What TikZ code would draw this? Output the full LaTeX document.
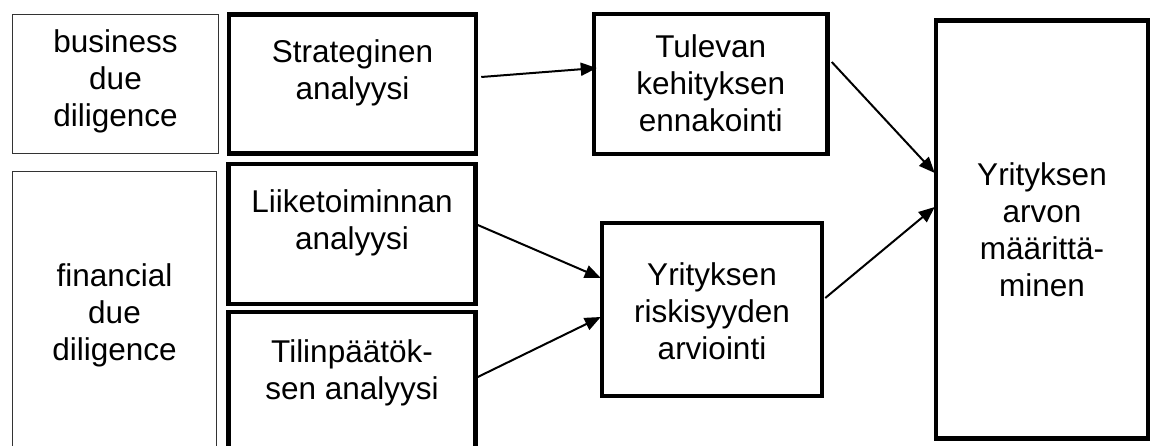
\documentclass[tikz,border=0pt]{standalone}
\usepackage{fontspec}
\setmainfont{Liberation Sans}
\usetikzlibrary{arrows.meta}
\begin{document}
\begin{tikzpicture}[x=1pt,y=-1pt,
  thinbox/.style={draw=black!80,line width=1pt,rectangle,inner sep=0pt},
  thickbox/.style={draw=black,line width=4.5pt,rectangle,inner sep=0pt},
  lbl/.style={align=center,inner sep=0pt,anchor=base,
    font=\fontsize{31.5}{37}\selectfont},
  conn/.style={line width=2pt,-{Triangle[length=16pt,width=13pt]}}]
\useasboundingbox (0,0) rectangle (1150,446);
\clip (0,0) rectangle (1150,446);
\fill[white] (0,0) rectangle (1150,446);

% phase frames on the left
\node[thinbox,minimum width=206pt,minimum height=139pt] (bdd) at (115.5,84) {};
\node[thinbox,minimum width=204pt,minimum height=279.5pt] (fdd) at (114.5,311.25) {};

% analysis steps
\node[thickbox,minimum width=247pt,minimum height=139pt] (strat) at (352.5,84) {};
\node[thickbox,minimum width=247pt,minimum height=140pt] (liike) at (352,234) {};
\node[thickbox,minimum width=247pt,minimum height=140pt] (tilin) at (352,382) {};
\node[thickbox,minimum width=233.5pt,minimum height=140pt] (tul) at (710.75,84) {};
\node[thickbox,minimum width=220pt,minimum height=173pt] (risk) at (712,309.5) {};
\node[thickbox,minimum width=212pt,minimum height=418pt] (arvo) at (1042,229.6) {};

% texts (anchored at the baseline of their last line)
\node[lbl] (bddtxt) at (115.5,127) {business\\due\\diligence};
\node[lbl] (fddtxt) at (114.5,360) {financial\\due\\diligence};
\node[lbl] (strattxt) at (352.5,100) {Strateginen\\analyysi};
\node[lbl] (liiketxt) at (352,250) {Liiketoiminnan\\analyysi};
\node[lbl] (tilintxt) at (352,399) {Tilinpäätök-\\sen analyysi};
\node[lbl] (tultxt) at (710.75,132) {Tulevan\\kehityksen\\ennakointi};
\node[lbl] (risktxt) at (712,359) {Yrityksen\\riskisyyden\\arviointi};
\node[lbl] (arvotxt) at (1042,296) {Yrityksen\\arvon\\määrittä-\\minen};

% connectors
\draw[conn] ([xshift=3pt,yshift=7pt]strat.east) -- ([xshift=5pt,yshift=16pt]tul.west);
\draw[conn] ([yshift=9pt]liike.east) -- ([xshift=1pt,yshift=31.5pt]risk.west);
\draw[conn] ([yshift=5pt]tilin.east) -- ([xshift=1pt,yshift=-7.5pt]risk.west);
\draw[conn] ([xshift=2pt,yshift=22pt]tul.east) -- ([xshift=1pt,yshift=56.6pt]arvo.west);
\draw[conn] ([xshift=1pt,yshift=11.5pt]risk.east) -- ([xshift=1pt,yshift=22.6pt]arvo.west);
\end{tikzpicture}
\end{document}
